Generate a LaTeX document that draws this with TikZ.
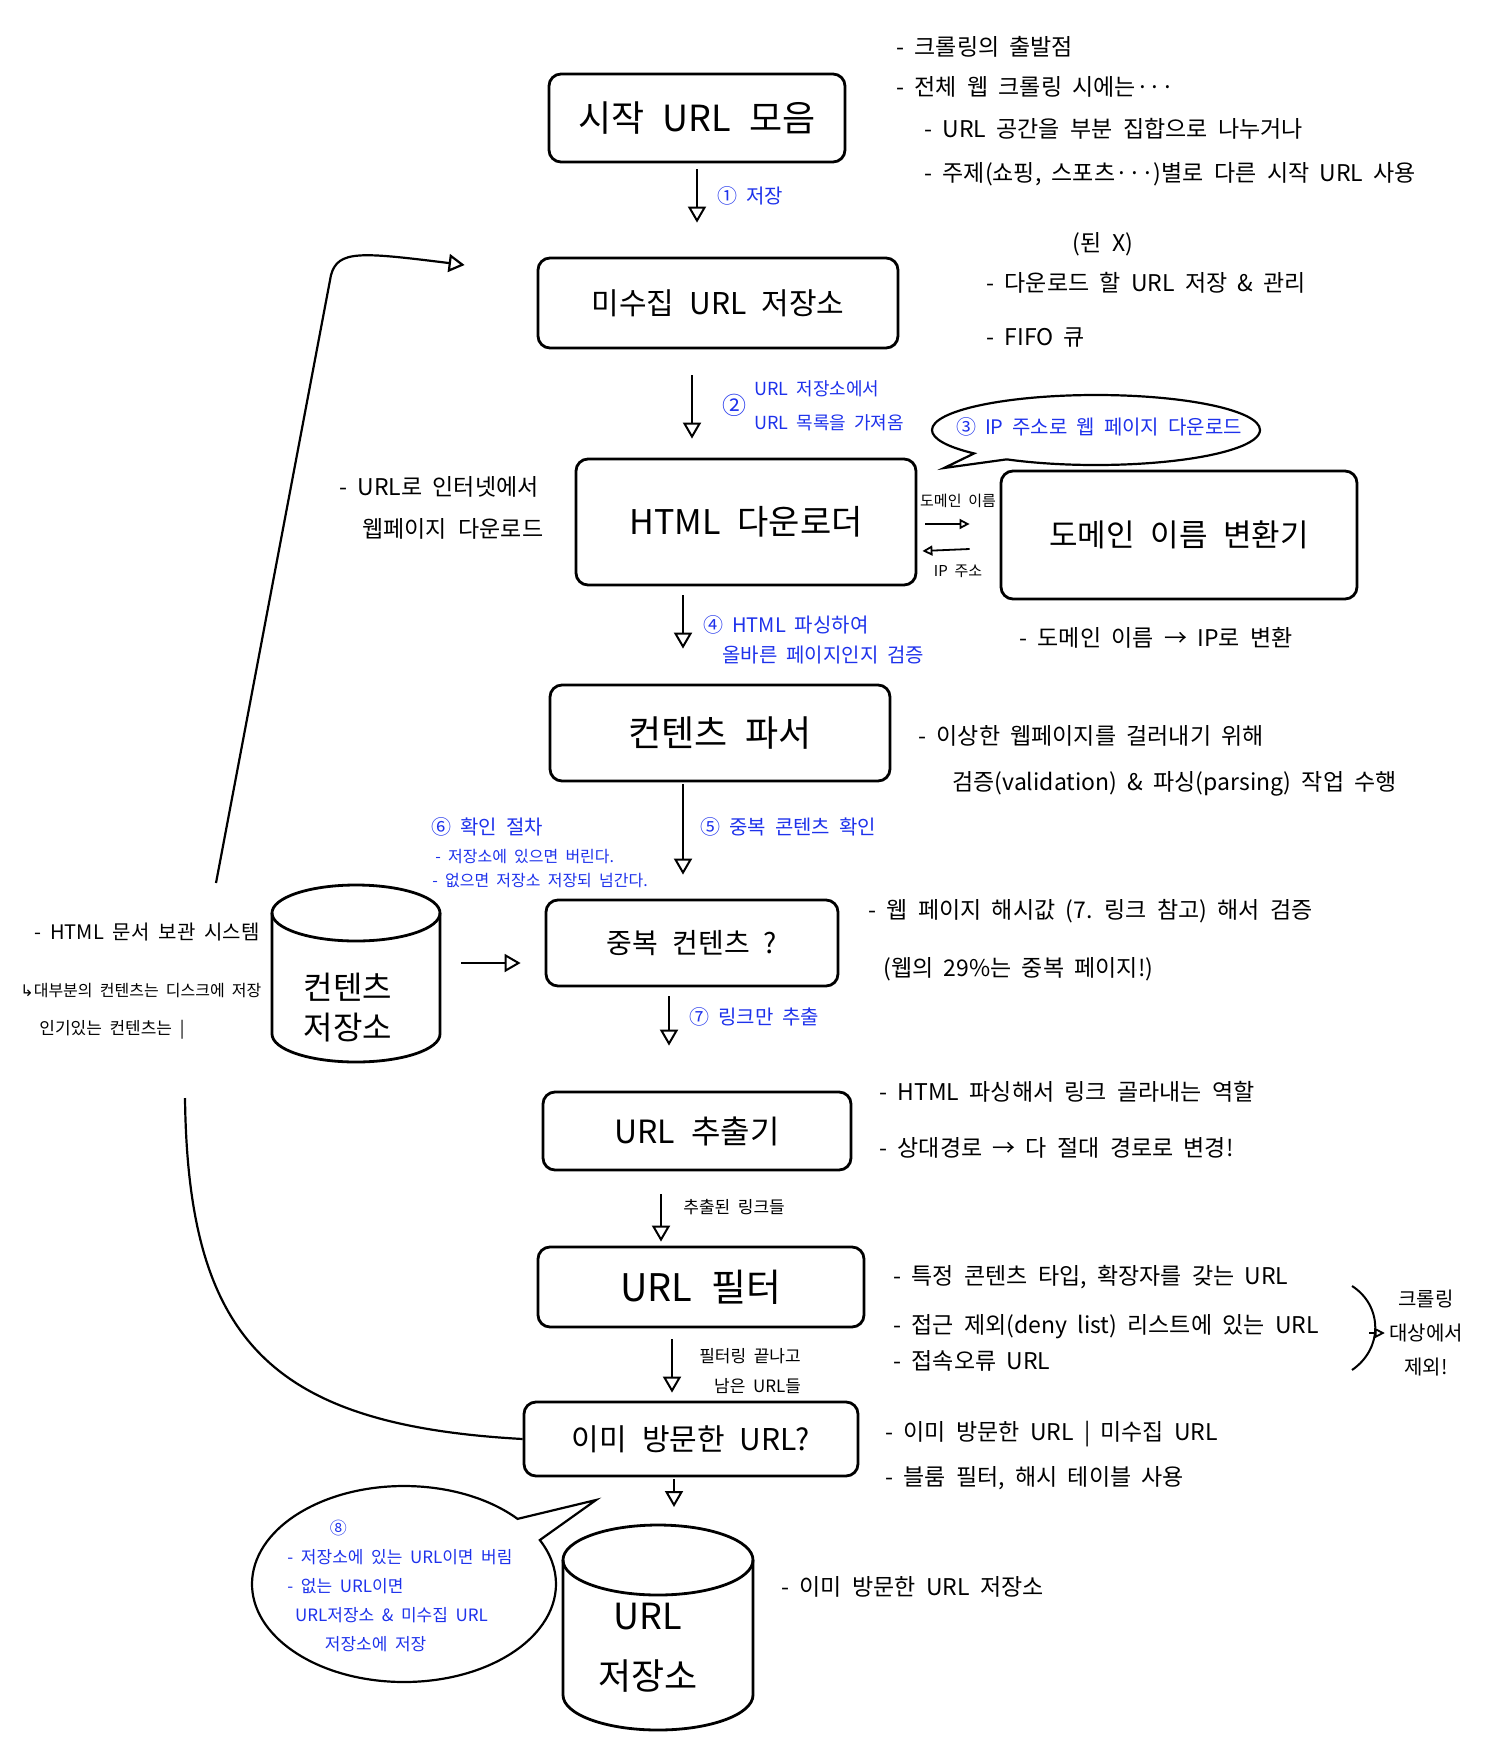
\documentclass[tikz,border=0pt]{standalone}
\usepackage{fontspec}
\setmainfont{Noto Sans CJK KR}[WordSpace=2]
\newfontfamily\dvfont{DejaVu Sans}
\usepackage{tikz}
\usetikzlibrary{arrows.meta,positioning,shapes.geometric,shapes.callouts}
\definecolor{penblue}{RGB}{30,50,235}
\newcommand{\gap}{\hspace{0.5em}}

\begin{document}
\begin{tikzpicture}[x=0.5pt, y=-0.5pt, >={Triangle[open, length=8pt, width=9pt]},
  box/.style={draw, line width=1.4pt, rounded corners=6pt, inner sep=0pt},
  storeline/.style={line width=1.4pt},
  storetext/.style={align=center, inner sep=0pt, font=\fontsize{16}{20}\selectfont},
  note/.style={anchor=west, inner sep=0pt, font=\fontsize{11.5}{20}\selectfont},
  smallnote/.style={note, font=\fontsize{8.5}{15}\selectfont},
  pen/.style={note, text=penblue, font=\fontsize{10}{16}\selectfont},
  smallpen/.style={pen, font=\fontsize{8}{13}\selectfont},
  flow/.style={->, line width=1pt},
  thinflow/.style={-{Triangle[open, length=5pt, width=5pt]}, line width=0.9pt},
  bubble/.style={draw, ellipse callout, line width=1.1pt, inner sep=0pt}]
\useasboundingbox (0,0) rectangle (1502,1756);

\node[box, minimum width=148pt, minimum height=44pt, font=\fontsize{18}{22}\selectfont] (seed) at (697,118) {시작\gap URL\gap 모음};
\node[box, minimum width=180pt, minimum height=45pt, font=\fontsize{15}{20}\selectfont] (frontier) at (718,303) {미수집\gap URL\gap 저장소};
\node[box, minimum width=170pt, minimum height=63pt, font=\fontsize{17}{22}\selectfont] (loader) at (746,522) {HTML\gap 다운로더};
\node[box, minimum width=178pt, minimum height=64pt, font=\fontsize{15.5}{20}\selectfont] (domain) at (1179,535) {도메인\gap 이름\gap 변환기};
\node[box, minimum width=170pt, minimum height=48pt, font=\fontsize{18}{22}\selectfont] (parser) at (720,733) {컨텐츠\gap 파서};
\node[box, minimum width=146pt, minimum height=43pt, font=\fontsize{14}{20}\selectfont] (dup) at (692,943) {중복\gap 컨텐츠\gap ?};
\node[box, minimum width=154pt, minimum height=39pt, font=\fontsize{16}{20}\selectfont] (extractor) at (697,1131) {URL\gap 추출기};
\node[box, minimum width=163pt, minimum height=40pt, font=\fontsize{19}{22}\selectfont] (filter) at (701,1287) {URL\gap 필터};
\node[box, minimum width=167pt, minimum height=37pt, font=\fontsize{15}{20}\selectfont] (visited) at (691,1439) {이미\gap 방문한\gap URL?};

\draw[storeline] (356,913) ellipse [x radius=84, y radius=28];
\draw[storeline] (272,913) -- (272,1034) arc[start angle=180, end angle=0, x radius=84, y radius=28] -- (440,913);
\node[storetext] (cstore) at (348,1008) {컨텐츠\\저장소};
\coordinate (cstoreside) at (440,963);
\draw[storeline] (658,1560) ellipse [x radius=95, y radius=35];
\draw[storeline] (563,1560) -- (563,1695) arc[start angle=180, end angle=0, x radius=95, y radius=35] -- (753,1560);
\node[storetext, font=\fontsize{18}{30}\selectfont] (ustore) at (648,1648) {URL\\저장소};
\coordinate (ustoretop) at (658,1525);

\node[note] (seednote1) at (896,47) {- 크롤링의 출발점};
\node[note] (seednote2) at (896,87) {- 전체 웹 크롤링 시에는···};
\node[note] (seednote3) at (924,129) {- URL 공간을 부분 집합으로 나누거나};
\node[note] (seednote4) at (924,174) {- 주제(쇼핑, 스포츠···)별로 다른 시작 URL 사용};
\node[note, anchor=center] (frontnote0) at (1103,244) {(된 X)};
\node[note] (frontnote1) at (986,283) {- 다운로드 할 URL 저장 \& 관리};
\node[note] (frontnote2) at (986,338) {- FIFO 큐};
\node[note] (loadnote1) at (339,487) {- URL로 인터넷에서};
\node[note] (loadnote2) at (362,529) {웹페이지\gap 다운로드};
\node[note] (domnote) at (1019,638) {- 도메인 이름 → IP로 변환};
\node[note] (parsenote1) at (918,736) {- 이상한 웹페이지를 걸러내기 위해};
\node[note] (parsenote2) at (952,784) {검증(validation) \& 파싱(parsing) 작업 수행};
\node[note] (dupnote1) at (868,911) {- 웹 페이지 해시값 (7. 링크 참고) 해서 검증};
\node[note] (dupnote2) at (883,969) {(웹의 29\%는 중복 페이지!)};
\node[note, font=\fontsize{10}{16}\selectfont] (csnote1) at (34,932) {- HTML 문서 보관 시스템};
\node[smallnote, font=\fontsize{8}{14}\selectfont] (csnote2) at (20,991) {{\dvfont ↳}대부분의 컨텐츠는 디스크에 저장};
\node[smallnote] (csnote3) at (39,1030) {인기있는 컨텐츠는 |};
\node[note] (extnote1) at (879,1092) {- HTML 파싱해서 링크 골라내는 역할};
\node[note] (extnote2) at (879,1148) {- 상대경로 → 다 절대 경로로 변경!};
\node[note] (filtnote1) at (893,1277) {- 특정 콘텐츠 타입, 확장자를 갖는 URL};
\node[note] (filtnote2) at (893,1327) {- 접근 제외(deny list) 리스트에 있는 URL};
\node[note] (filtnote3) at (893,1361) {- 접속오류 URL};
\node[note, anchor=center, align=center, font=\fontsize{10}{17}\selectfont] (excl) at (1426,1333) {크롤링\\대상에서\\제외!};
\node[note] (visnote1) at (885,1434) {- 이미 방문한 URL | 미수집 URL};
\node[note] (visnote2) at (885,1478) {- 블룸 필터, 해시 테이블 사용};
\node[note] (usnote) at (781,1587) {- 이미 방문한 URL 저장소};

\node[pen] (step1) at (717,196) {①\ 저장};
\node[pen, font=\fontsize{12}{16}\selectfont] (step2) at (722,405) {②};
\node[pen, align=left, font=\fontsize{9}{17}\selectfont] (step2txt) at (754,406) {URL 저장소에서\\URL 목록을 가져옴};
\node[pen] (step4) at (703,625) {④\ HTML 파싱하여};
\node[pen] (step4b) at (722,655) {올바른 페이지인지 검증};
\node[pen] (step5) at (700,827) {⑤\ 중복 콘텐츠 확인};
\node[pen] (step6) at (431,827) {⑥\ 확인 절차};
\node[smallpen] (step6a) at (435,857) {- 저장소에 있으면 버린다.};
\node[smallpen] (step6b) at (432,881) {- 없으면 저장소 저장되 넘간다.};
\node[pen] (step7) at (689,1017) {⑦\ 링크만 추출};
\node[smallnote] (linkslbl) at (683,1207) {추출된 링크들};
\node[smallnote, anchor=center, align=center] (leftlbl) at (750,1371) {필터링 끝나고\\\ \ 남은 URL들};
\node[smallnote, anchor=center, font=\fontsize{7.5}{10}\selectfont] (namelbl) at (958,501) {도메인 이름};
\node[smallnote, anchor=center, font=\fontsize{7.5}{10}\selectfont] (iplbl) at (958,571) {IP 주소};

\node[bubble, minimum width=164pt, minimum height=35pt, callout absolute pointer={(944,468)}] (dnsbubble) at (1096,430) {};
\node[pen, anchor=center] (step3) at (1099,427) {③\ IP 주소로 웹 페이지 다운로드};
\node[bubble, minimum width=152pt, minimum height=98pt, callout absolute pointer={(596,1500)}] (urlbubble) at (404,1584) {};
\node[pen, anchor=center, align=left, font=\fontsize{8.5}{14.5}\selectfont] (step8) at (400,1586) {\hspace{2.5em}⑧\\- 저장소에 있는 URL이면 버림\\- 없는 URL이면\\\ URL저장소 \& 미수집 URL\\\hspace{2.2em}저장소에 저장};

\draw[flow, shorten <=3pt, shorten >=17pt] (seed.south) -- (seed.south |- frontier.north);
\draw[flow, shorten <=13pt, shorten >=9.5pt] ([xshift=-13pt]frontier.south) -- ([xshift=-13pt]frontier.south |- loader.north);
\draw[flow, shorten <=4.5pt, shorten >=17.5pt] ([xshift=-31.5pt]loader.south) -- ([xshift=-31.5pt]loader.south |- parser.north);
\draw[flow, shorten <=1pt, shorten >=12pt] ([xshift=-18.5pt]parser.south) -- ([xshift=-18.5pt]parser.south |- dup.north);
\draw[flow, shorten <=4.5pt, shorten >=22.5pt] ([xshift=-11.5pt]dup.south) -- ([xshift=-11.5pt]dup.south |- extractor.north);
\draw[flow, shorten <=11.5pt, shorten >=2pt] ([xshift=-18pt]extractor.south) -- ([xshift=-18pt]extractor.south |- filter.north);
\draw[flow, shorten <=5.5pt, shorten >=4pt] ([xshift=-14.5pt]filter.south) -- ([xshift=-14.5pt]filter.south |- visited.north);
\draw[flow, shorten <=1pt, shorten >=9pt] ([xshift=-8.5pt]visited.south) -- ([xshift=-8.5pt]visited.south |- ustoretop);
\draw[flow, shorten <=10.5pt, shorten >=12pt] (cstoreside) -- (cstoreside -| dup.west);
\draw[thinflow] ([xshift=4pt,yshift=-1pt]loader.east) -- ([xshift=-15pt,yshift=5.5pt]domain.west);
\draw[thinflow] ([xshift=-15pt,yshift=-7pt]domain.west) -- ([xshift=2.5pt,yshift=-14.5pt]loader.east);

\draw[line width=1pt] (1352,1286) .. controls (1382,1305) and (1384,1348) .. (1352,1370);
\coordinate (bracetip) at (1369,1333);
\draw[thinflow, shorten >=2pt] (bracetip) -- (excl.west);

\coordinate (gaplow) at (185,1098);
\coordinate (gaphigh) at (216,883);
\draw[line width=1.1pt] (visited.west) .. controls (270,1425) and (188,1340) .. (gaplow);
\draw[flow, line width=1.1pt] (gaphigh) -- (331,275) .. controls (338,250) and (360,252) .. ([xshift=-36pt,yshift=19pt]frontier.west);
\end{tikzpicture}
\end{document}
